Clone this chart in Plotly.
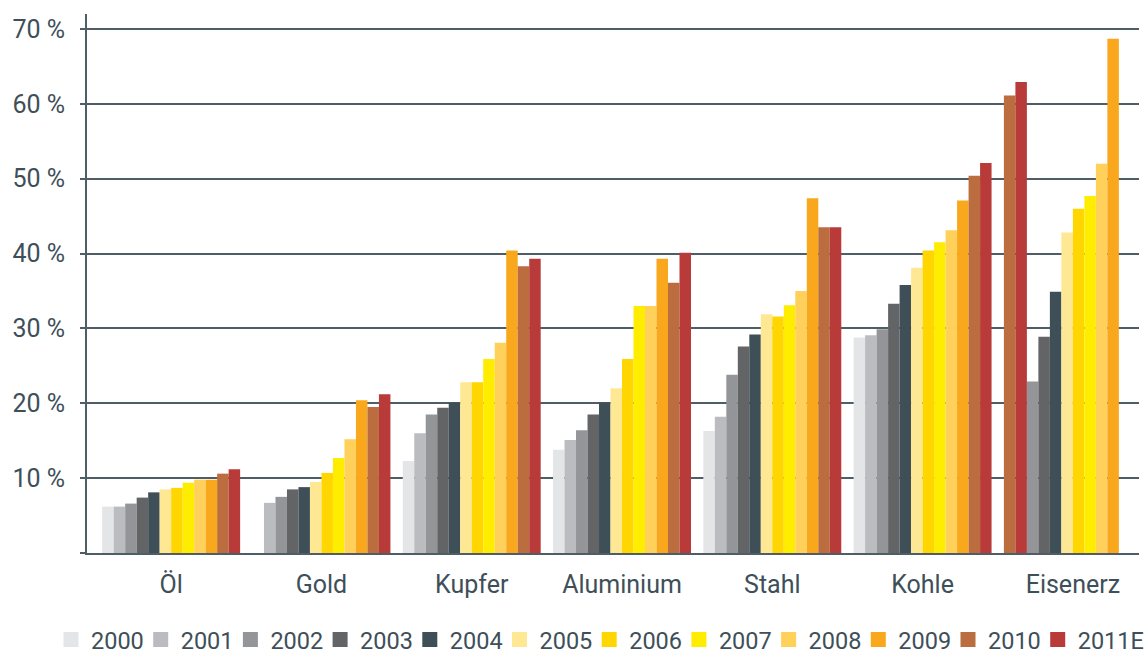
import plotly.graph_objects as go

categories = ["Öl", "Gold", "Kupfer", "Aluminium", "Stahl", "Kohle", "Eisenerz"]
years = ["2000", "2001", "2002", "2003", "2004", "2005",
         "2006", "2007", "2008", "2009", "2010", "2011E"]

# values in % per category, in year order 2000 ... 2011E
oel = [6.2, 6.2, 6.6, 7.4, 8.1, 8.5, 8.7, 9.4, 9.8, 9.8, 10.6, 11.2]
gold = [None, 6.7, 7.5, 8.5, 8.8, 9.5, 10.7, 12.7, 15.2, 20.4, 19.5, 21.2]
kupfer = [12.3, 16.0, 18.5, 19.4, 20.1, 22.8, 22.8, 25.9, 28.1, 40.4, 38.3, 39.3]
aluminium = [13.8, 15.1, 16.4, 18.5, 20.1, 22.0, 25.9, 33.0, 33.0, 39.3, 36.1, 40.1]
stahl = [16.3, 18.2, 23.8, 27.6, 29.2, 31.9, 31.6, 33.1, 35.0, 47.4, 43.5, 43.5]
kohle = [28.8, 29.1, 29.9, 33.3, 35.8, 38.1, 40.4, 41.5, 43.1, 47.1, 50.4, 52.1]
eisenerz = [None, None, 22.9, 28.9, 34.9, 42.8, 46.0, 47.7, 52.0, 68.7, 61.1, 62.9]

# in the original, the 2010 and 2011E bars of "Eisenerz" stand in the first two slots
slot_override = {"Eisenerz": {"2010": 0, "2011E": 1}, }

colors = ["#e4e5e7", "#bbbcc0", "#939598", "#636466", "#3f4f58", "#ffe893",
          "#ffd600", "#ffed00", "#ffd05a", "#f9a81d", "#bb6d40", "#b83b3a"]

ytick_vals = [0, 10, 20, 30, 40, 50, 60, 70]
ytick_text = ["", "10 %", "20 %", "30 %", "40 %", "50 %", "60 %", "70 %"]

table = [oel, gold, kupfer, aluminium, stahl, kohle, eisenerz]

TXT = "#3e4f59"
LINE = "#4f5d67"
FONT = "Roboto"

n = len(years)
bw = 0.0765
xr = [-0.56, 6.44]

# layout geometry (px)
ML, MR, MT, MB = 87, 5, 14, 99
W, H = 1144, 652
plot_w = W - ML - MR
leg_start_px = 51.0
leg_step_px = 89.7

fig = go.Figure()
legend_layouts = {}
for j, yr in enumerate(years):
    vals = [row[j] for row in table]
    offs = []
    for cat in categories:
        slot = slot_override.get(cat, {}).get(yr, j)
        offs.append((slot - n / 2) * bw)
    lname = "legend" if j == 0 else f"legend{j + 1}"
    fig.add_trace(go.Bar(
        x=categories, y=vals, name=yr, width=bw, offset=offs,
        marker=dict(color=colors[j], line=dict(width=0)),
        showlegend=False, legendgroup=yr,
    ))
    fig.add_trace(go.Scatter(
        x=[None], y=[None], mode="markers", name=yr, legendgroup=yr,
        marker=dict(symbol="square", size=15, color=colors[j], line=dict(width=0)),
        showlegend=True, legend=lname,
    ))
    legend_layouts[lname] = dict(
        orientation="h", xref="paper",
        x=(leg_start_px + j * leg_step_px - ML) / plot_w, xanchor="left",
        yref="paper", y=-0.161, yanchor="middle",
        font=dict(size=23.5, color=TXT),
        bgcolor="rgba(0,0,0,0)", borderwidth=0,
    )

fig.update_layout(
    width=W, height=H,
    margin=dict(l=ML, r=MR, t=MT, b=MB, autoexpand=False),
    paper_bgcolor="white", plot_bgcolor="white",
    barmode="overlay",
    font=dict(family=FONT, size=24, color=TXT),
    xaxis=dict(
        type="category", categoryorder="array", categoryarray=categories,
        range=xr, showgrid=False, zeroline=False,
        showline=True, linecolor=LINE, linewidth=2,
        ticks="", tickfont=dict(size=25, color=TXT),
        ticklabelstandoff=8,
    ),
    xaxis2=dict(
        type="linear", overlaying="x", anchor="y", side="bottom",
        range=xr, showgrid=False, zeroline=False, showline=False,
        tickmode="array", tickvals=[xr[0], 0.5, 1.5, 2.5, 3.5, 4.5, 5.5],
        ticks="outside", ticklen=14, tickwidth=2, tickcolor=LINE,
        showticklabels=False,
    ),
    yaxis=dict(
        range=[0, 72], tickmode="array", tickvals=ytick_vals, ticktext=ytick_text,
        showgrid=True, gridcolor=LINE, gridwidth=2,
        zeroline=False, showline=True, linecolor=LINE, linewidth=2,
        ticks="outside", ticklen=5, tickwidth=2, tickcolor=LINE,
        tickfont=dict(size=25, color=TXT), ticklabelstandoff=10,
    ),
    **legend_layouts,
)

fig.write_html("out.html")
